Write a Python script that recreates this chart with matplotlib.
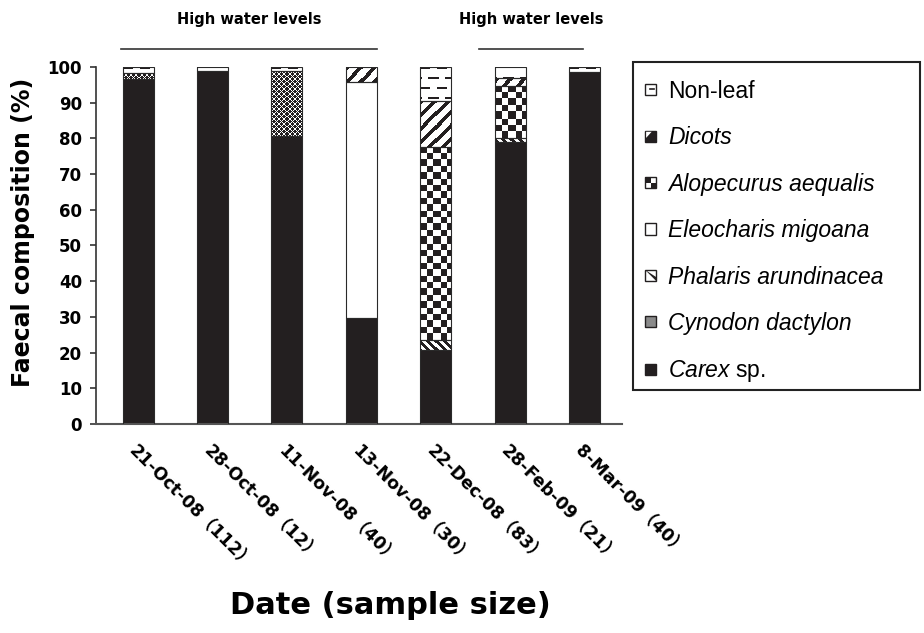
"""Faecal composition per sampling date, stacked bars with pattern fills."""

import numpy as np
import matplotlib

matplotlib.use("Agg")
from matplotlib import pyplot as plt
from matplotlib.colors import ListedColormap
from matplotlib.legend_handler import HandlerBase
from matplotlib.lines import Line2D
from matplotlib.patches import Patch, Polygon, Rectangle

plt.rcParams["mathtext.fontset"] = "custom"
plt.rcParams["mathtext.it"] = "Liberation Sans:italic"
plt.rcParams["mathtext.rm"] = "Liberation Sans"

BLACK = "#231f20"

dates = ["21-Oct-08", "28-Oct-08", "11-Nov-08", "13-Nov-08", "22-Dec-08", "28-Feb-09", "8-Mar-09"]
sample_sizes = [112, 12, 40, 30, 83, 21, 40]

# stacked bottom to top
carex = [96.5, 98.8, 80.8, 29.6, 20.7, 78.9, 98.7]
cynodon = [1.9, 0.0, 18.2, 0.0, 0.0, 0.0, 0.0]
phalaris = [0.0, 0.0, 0.0, 0.0, 2.8, 1.1, 0.0]
eleocharis = [0.0, 0.0, 0.0, 66.1, 0.0, 0.0, 0.0]
alopecurus = [0.0, 0.0, 0.0, 0.0, 54.2, 14.7, 0.0]
dicots = [0.0, 0.0, 0.0, 4.3, 12.9, 2.1, 0.0]
non_leaf = [1.6, 1.2, 1.0, 0.0, 9.4, 3.2, 1.3]

high_water_spans = [(-0.23, 3.21), (4.58, 5.98)]

series = [
    ("carex", r"$\mathit{Carex}$ sp.", carex),
    ("cynodon", "Cynodon dactylon", cynodon),
    ("phalaris", "Phalaris arundinacea", phalaris),
    ("eleocharis", "Eleocharis migoana", eleocharis),
    ("alopecurus", "Alopecurus aequalis", alopecurus),
    ("dicots", "Dicots", dicots),
    ("nonleaf", "Non-leaf", non_leaf),
]


def pattern(kind, h, w):
    """Return a 0 (black) / 1 (white) pixel pattern of shape (h, w)."""
    i, j = np.indices((h, w))
    if kind == "cynodon":
        white = ((i + j) % 5 == 0) | ((i - j) % 5 == 0)
    elif kind == "phalaris":
        white = (i - j) % 8 >= 4
    elif kind == "alopecurus":
        white = ((i // 6.4).astype(int) + (j // 6.4).astype(int)) % 2 == 1
    elif kind == "dicots":
        white = (i + j) % 13 >= 5
    else:  # non-leaf dashes
        row = i // 10
        white = ~(((i % 10) < 2) & (((j + 8 * (row % 2)) % 16) < 10))
    return white.astype(float)


class IconHandler(HandlerBase):
    def __init__(self, kind):
        super().__init__()
        self.kind = kind

    def create_artists(self, legend, orig_handle, xdescent, ydescent,
                       width, height, fontsize, trans):
        s = 8.0
        x0 = -xdescent
        y0 = -ydescent + (height - s) / 2
        k = self.kind
        face = {"carex": BLACK, "cynodon": "#8a8a8a", "dicots": BLACK}.get(k, "white")
        arts = [Rectangle((x0, y0), s, s, facecolor=face, edgecolor=BLACK,
                          linewidth=1.0, transform=trans)]
        if k == "nonleaf":
            arts.append(Line2D([x0 + 0.45 * s, x0 + 0.85 * s], [y0 + 0.6 * s] * 2,
                               color=BLACK, linewidth=1.2, transform=trans))
        elif k == "dicots":
            arts.append(Polygon([(x0 + 0.1 * s, y0 + 0.9 * s), (x0 + 0.6 * s, y0 + 0.9 * s),
                                 (x0 + 0.1 * s, y0 + 0.35 * s)],
                                facecolor="white", edgecolor="none", transform=trans))
        elif k == "alopecurus":
            arts.append(Rectangle((x0, y0 + s / 2), s / 2, s / 2, facecolor=BLACK,
                                  edgecolor="none", transform=trans))
            arts.append(Rectangle((x0 + s / 2, y0), s / 2, s / 2, facecolor=BLACK,
                                  edgecolor="none", transform=trans))
        elif k == "phalaris":
            arts.append(Polygon([(x0, y0 + s), (x0 + s, y0), (x0 + s, y0 + 0.35 * s)],
                                facecolor=BLACK, edgecolor="none", transform=trans))
        return arts


fig = plt.figure(figsize=(9.24, 6.33), dpi=100)
ax = fig.add_axes([96 / 924, 1 - 424 / 633, 526 / 924, 357 / 633])
ax.set_xlim(-0.565, 6.505)
ax.set_ylim(0, 100)
ax.set_autoscale_on(False)

x = np.arange(len(dates))
width = 0.417
bottom = np.zeros(len(dates))
cmap = ListedColormap([BLACK, "white"])
for kind, label, values in series:
    values = np.asarray(values)
    face = BLACK if kind == "carex" else "white"
    bars = ax.bar(x, values, width, bottom=bottom, color=face, linewidth=0, zorder=2)
    if kind not in ("carex", "eleocharis"):
        for rect in bars:
            if rect.get_height() <= 0:
                continue
            x0, y0 = rect.get_x(), rect.get_y()
            x1, y1 = x0 + rect.get_width(), y0 + rect.get_height()
            (px0, py0), (px1, py1) = ax.transData.transform([[x0, y0], [x1, y1]])
            pw = max(int(round(px1 - px0)), 1)
            ph = max(int(round(py1 - py0)), 1)
            im = ax.imshow(pattern(kind, ph, pw), cmap=cmap, vmin=0, vmax=1,
                           extent=(x0, x1, y0, y1), aspect="auto",
                           interpolation="nearest", zorder=2.5)
            im.set_clip_path(rect)
    lw = np.where(values > 0, 0.8, 0)
    ax.bar(x, values, width, bottom=bottom, fill=False, edgecolor="#2a2a2a",
           linewidth=lw, zorder=3)
    bottom += values

ax.set_xlim(-0.565, 6.505)
ax.set_ylim(0, 100)

for side in ("top", "right"):
    ax.spines[side].set_visible(False)
ax.spines["left"].set_linewidth(1.2)
ax.spines["left"].set_color("#333333")
ax.spines["bottom"].set_linewidth(1.5)
ax.spines["bottom"].set_color("#555555")

ax.set_yticks(np.arange(0, 101, 10))
ax.tick_params(axis="y", direction="out", length=4, width=1.2, color="#333333",
               pad=6, labelsize=12)
for t in ax.get_yticklabels():
    t.set_fontweight("bold")
    t.set_family("DejaVu Sans")

ax.set_xticks(x)
ax.set_xticklabels([f"{d}（{n}）" for d, n in zip(dates, sample_sizes)],
                   rotation=-45, ha="left", va="top", rotation_mode="anchor",
                   fontsize=12.5, fontweight="bold",
                   family=["DejaVu Sans", "Noto Sans CJK SC"])
ax.tick_params(axis="x", length=0, pad=13)

for x0, x1 in high_water_spans:
    ax.plot([x0, x1], [105, 105], color="#333333", linewidth=1.2, clip_on=False)
    ax.text((x0 + x1) / 2, 113.2, "High water levels", ha="center", va="center",
            fontsize=10.5, fontweight="bold", family="DejaVu Sans", clip_on=False)

fig.text(23 / 924, 1 - 232 / 633, "Faecal composition (%)", rotation=90,
         ha="center", va="center", fontsize=17, fontweight="bold", family="DejaVu Sans")
fig.text(390 / 924, 1 - 605 / 633, "Date (sample size)", ha="center", va="center",
         fontsize=22, fontweight="bold", family="DejaVu Sans")

handles, labels, hmap = [], [], {}
for kind, label, _ in reversed(series):
    h = Patch(label=label)
    handles.append(h)
    labels.append(label)
    hmap[h] = IconHandler(kind)
leg = fig.legend(handles, labels, handler_map=hmap, loc="upper left",
                 bbox_to_anchor=(645 / 924, 1 - 80 / 633), frameon=False,
                 borderpad=0, borderaxespad=0, handlelength=0.5, handleheight=0.5,
                 handletextpad=0.5, labelspacing=1.02,
                 prop={"family": "Liberation Sans", "size": 16.5})
for t, (kind, _, _) in zip(leg.get_texts(), reversed(series)):
    if kind not in ("nonleaf", "carex"):
        t.set_fontstyle("italic")

fig.add_artist(Rectangle((633 / 924, 1 - 390 / 633), 287 / 924, 328 / 633,
                         transform=fig.transFigure, fill=False,
                         edgecolor="#222222", linewidth=1.5))

fig.savefig("out.png", dpi=100)
